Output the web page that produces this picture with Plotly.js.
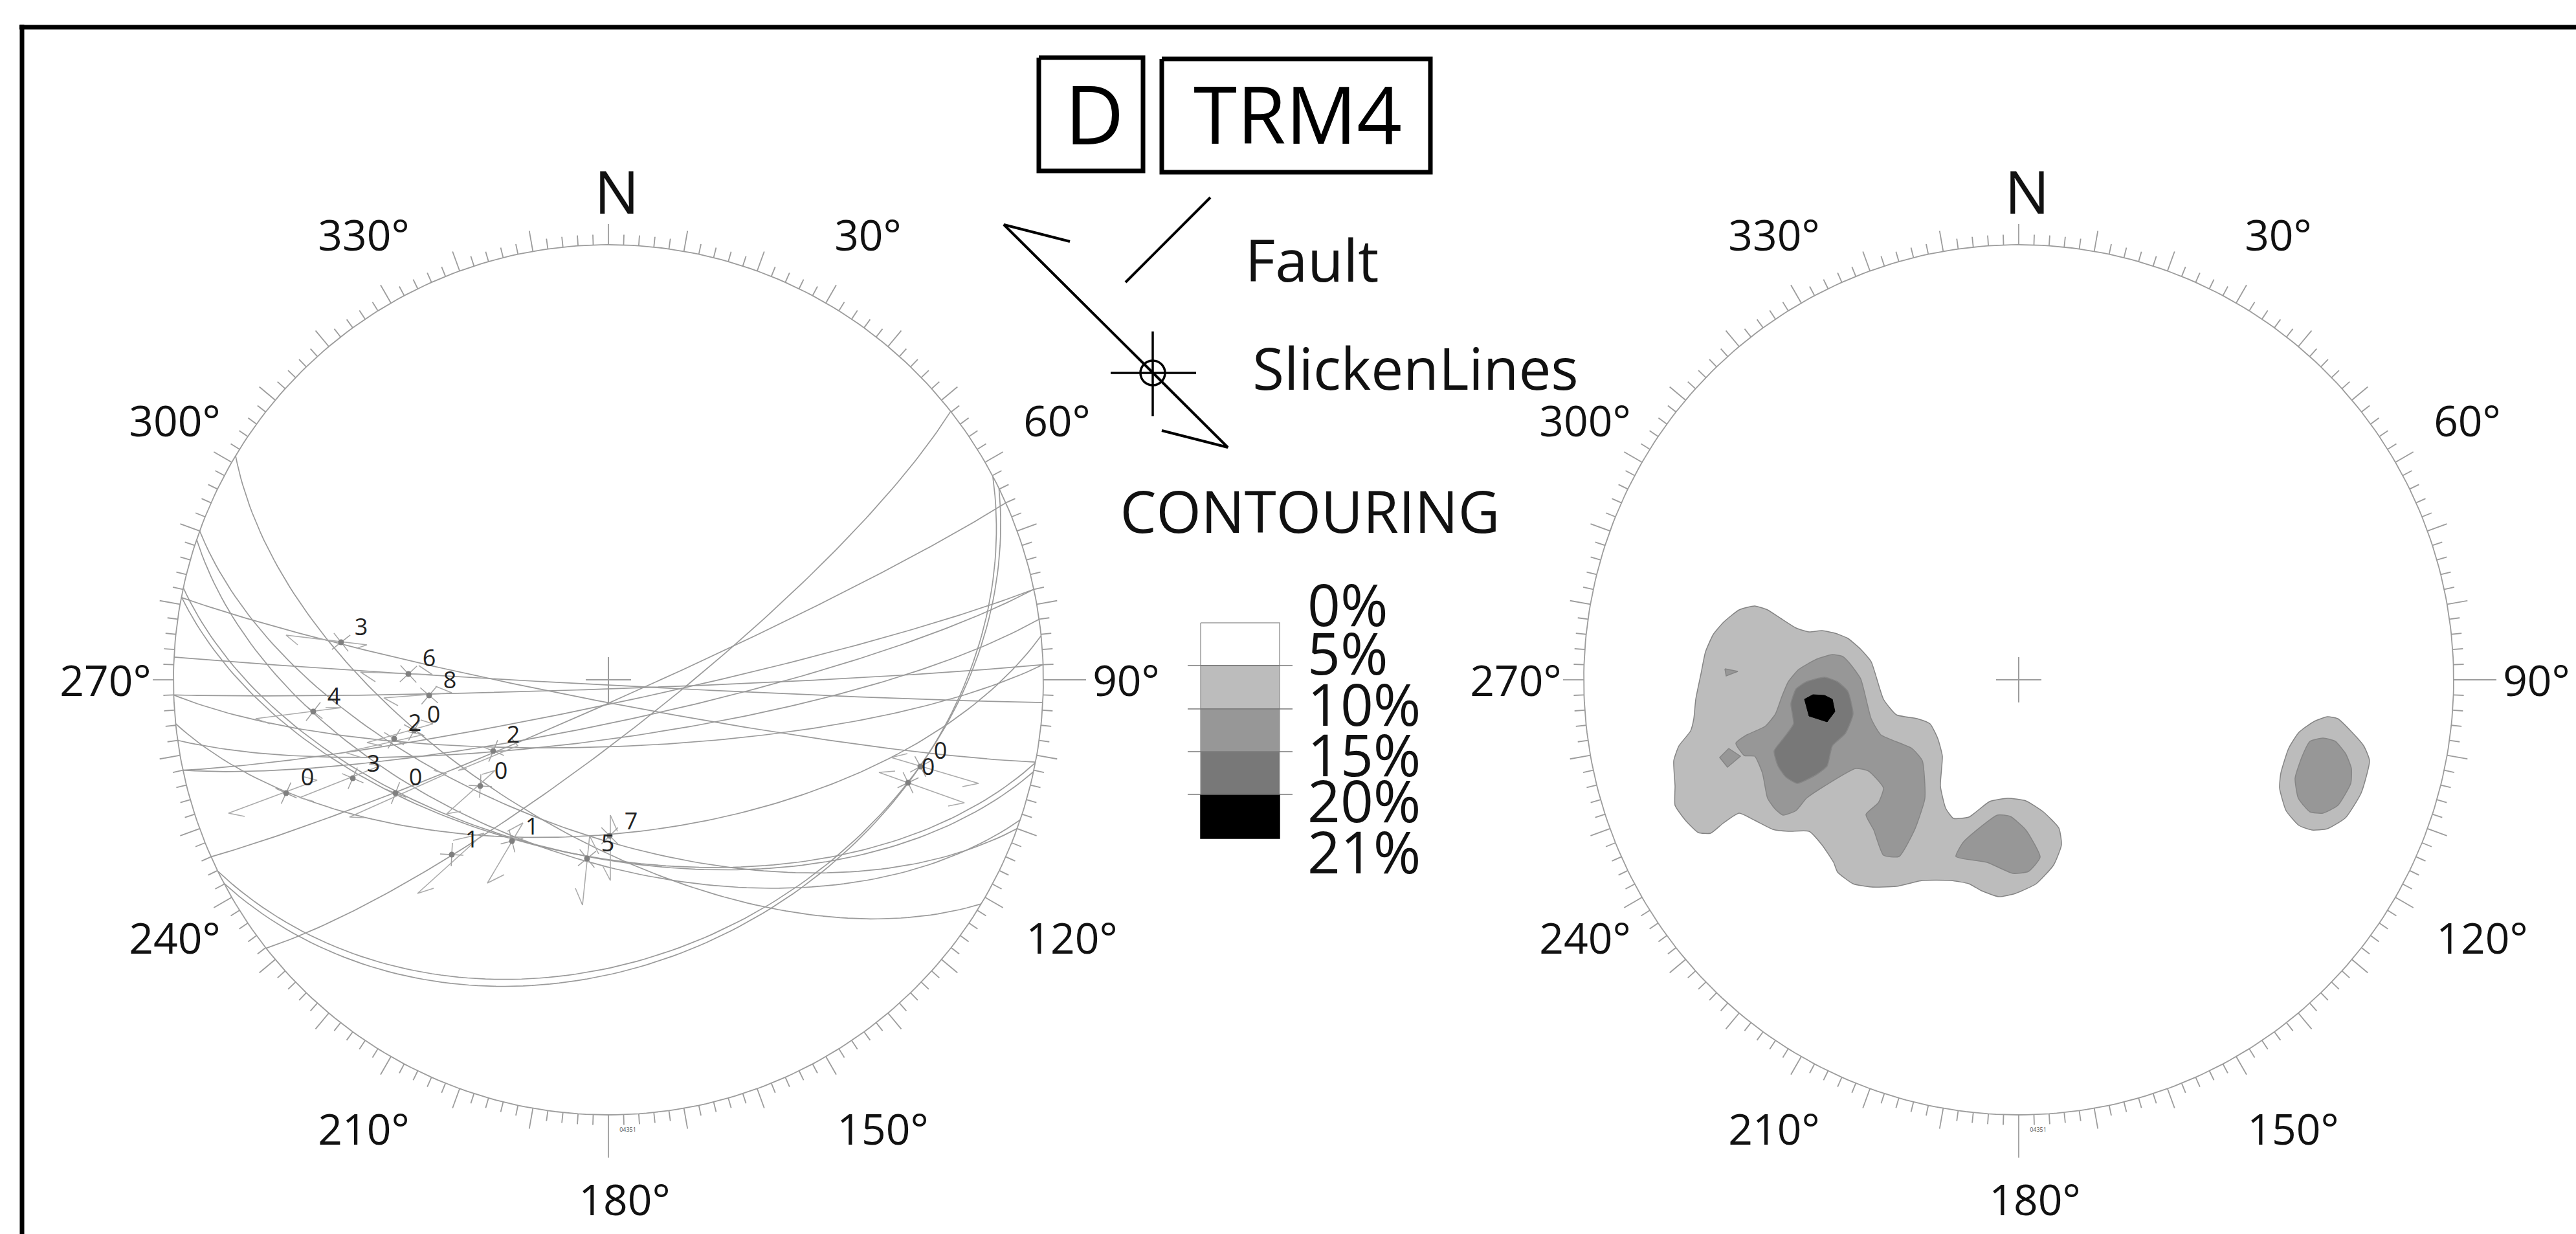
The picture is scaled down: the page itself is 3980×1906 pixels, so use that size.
<!DOCTYPE html>
<html><head><meta charset="utf-8">
<script src="https://cdn.plot.ly/plotly-3.0.1.min.js"></script>
<style>html,body{margin:0;padding:0;background:#fff}#c{width:3980px;height:1906px}</style>
</head><body><div id="c"></div>
<script>
// Fault planes: strike (azimuth, dip to the right of strike) and dip, degrees
const faultStrike = [121, 110, 108.8, 100.9, 101, 102.2, 93, 88, 88, 84.2, 82, 78, 78, 51.9, 66, 62.1, 63.9];
const faultDip    = [61, 61, 56, 85.8, 56.5, 56.5, 89, 88.3, 77.5, 61, 79, 85.5, 82, 80, 86, 36, 37];

// Slickenline marks read from the left net
const slickLabel = ['3','6','8','4','2','0','2','0','3','0','0','1','1','5','7','0','0'];
const slickX = [527,631,663,484,609,640,762,742,545,442,611,698,791,907,942,1403,1422];
const slickY = [992,1041,1074,1099,1141,1128,1160,1214,1202,1225,1225,1320,1299,1326,1291,1209,1184];
const slickLabelX = [558,663,695,516,641,670,793,774,577,475,642,729,822,939,975,1434,1453];
const slickLabelY = [969,1017,1051,1076,1117,1104,1135,1191,1180,1201,1201,1297,1277,1303,1269,1185,1160];
const tailX = [442,557,593,395,533,567,708,690,463,353,540,645,753,900,943,1358,1377];
const tailY = [981,1038,1078,1110,1162,1147,1190,1257,1232,1256,1262,1380,1364,1398,1360,1193,1170];
const tailHookX = [460,580,615,417,558,590,721,712,485,378,563,670,779,889,931,1383,1402];
const tailHookY = [996,1053,1090,1118,1170,1152,1187,1253,1238,1261,1263,1372,1351,1372,1337,1191,1164];
const headX = [567,668,698,528,653,669,800,765,587,490,690,748,808,911,943,1490,1512];
const headY = [996,1042,1070,1093,1135,1118,1152,1190,1183,1205,1195,1287,1271,1291,1259,1240,1210];
const headHookX = [552,647,673,503,630,650,790,745,570,470,670,700,784,925,954,1465,1487];
const headHookY = [1001,1028,1060,1093,1130,1112,1140,1196,1180,1200,1190,1298,1284,1319,1284,1245,1215];

// Density contours on the right net (outline vertices)
const c5MainX = [2711,2687,2663,2647,2635,2628,2620,2617,2612,2594,2586,2588,2588,2604,2624,2643,2663,2687,2711,2739,2763,2795,2815,2833,2839,2863,2891,2930,2970,3014,3042,3062,3088,3114,3146,3173,3185,3181,3157,3130,3102,3074,3042,3018,3006,2998,3001,2994,2982,2962,2930,2910,2891,2875,2855,2835,2815,2795,2775,2751,2731];
const c5MainY = [936,942,961,980,1007,1041,1080,1110,1129,1152,1175,1214,1244,1267,1286,1287,1271,1256,1267,1281,1284,1284,1305,1332,1347,1365,1370,1369,1360,1360,1365,1376,1385,1380,1365,1336,1305,1279,1254,1237,1233,1238,1262,1264,1248,1214,1168,1141,1118,1110,1104,1080,1022,1003,986,978,974,976,970,955,942];
const c5EastX = [3596,3576,3552,3536,3524,3522,3532,3552,3572,3596,3624,3648,3661,3652,3632,3612];
const c5EastY = [1107,1114,1131,1156,1194,1217,1252,1275,1282,1280,1263,1225,1175,1152,1129,1110];
const c10MainX = [2831,2807,2779,2763,2753,2743,2727,2699,2682,2695,2711,2723,2731,2743,2755,2775,2791,2819,2867,2887,2910,2902,2883,2895,2910,2934,2958,2974,2970,2954,2906,2891,2875,2859,2847];
const c10MainY = [1011,1018,1034,1053,1076,1103,1122,1135,1148,1167,1168,1194,1233,1250,1259,1252,1233,1214,1187,1191,1217,1240,1258,1282,1321,1323,1282,1233,1175,1156,1135,1110,1049,1026,1014];
const c10SmallAX = [2665,2685,2667];
const c10SmallAY = [1033,1037,1044];
const c10SmallBX = [2671,2689,2669,2657];
const c10SmallBY = [1156,1168,1185,1170];
const c10SouthX = [3086,3106,3130,3152,3134,3110,3070,3022,3034];
const c10SouthY = [1259,1261,1282,1324,1346,1349,1332,1323,1300];
const c10EastX = [3589,3569,3557,3546,3551,3569,3589,3612,3632,3633,3624,3608];
const c10EastY = [1140,1145,1168,1202,1233,1254,1256,1244,1210,1187,1164,1145];
const c15X = [2819,2791,2775,2767,2771,2755,2741,2747,2759,2777,2807,2823,2831,2851,2863,2855,2839];
const c15Y = [1046,1053,1064,1087,1118,1141,1160,1183,1200,1210,1196,1183,1152,1133,1103,1068,1053];
const c20X = [2801,2788,2795,2823,2835,2831,2819];
const c20Y = [1073,1080,1106,1115,1099,1080,1074];

// Contour key
const keyLabels = ['0%','5%','10%','15%','20%','21%'];
const keyLabelY = [945,1020,1099,1177,1248,1327];
const keyEdges = [962,1028,1095,1161,1227,1295];
const keyColors = ['#ffffff','#bcbcbc','#979797','#787878','#000000'];

// Net labels
const netLabels = ['330°','30°','300°','60°','270°','90°','240°','120°','210°','150°','180°'];
const netLabelDX = [-378,401,-670,693,-777,800,-670,716,-378,424,25];
const netLabelY = [370,370,657,657,1058,1058,1456,1456,1751,1751,1860];

const CX = [940, 3119], CY = 1050, R = 672;
const GREY = '#9c9c9c', rad = Math.PI/180;
const traces = [];
const line = (x,y,color,width) => traces.push({type:'scatter',mode:'lines',x,y,line:{color,width},hoverinfo:'skip'});
const poly = (x,y,fill) => traces.push({type:'scatter',mode:'lines',x:x.concat(x[0]),y:y.concat(y[0]),fill:'toself',fillcolor:fill,line:{color:'#858585',width:1.5,shape:x.length>4?'spline':'linear',smoothing:0.5},hoverinfo:'skip'});
const text = (x,y,t,size,color) => traces.push({type:'scatter',mode:'text',x,y,text:t,textposition:'middle center',textfont:{family:'"Open Sans"',size,color:color||'#111'},hoverinfo:'skip'});

// Primitive circles, ticks, centre crosses, labels
CX.forEach(cx => {
  const rx=[],ry=[],tx=[],ty=[];
  for(let a=0;a<=360;a++){rx.push(cx+R*Math.sin(a*rad));ry.push(CY-R*Math.cos(a*rad));}
  for(let a=0;a<360;a+=2){
    let L = a%10===0 ? 32 : 16;
    if(a===90||a===180) L=66;
    tx.push(cx+R*Math.sin(a*rad),cx+(R+L)*Math.sin(a*rad),null);
    ty.push(CY-R*Math.cos(a*rad),CY-(R+L)*Math.cos(a*rad),null);
  }
  line(rx,ry,GREY,1.8);
  line(tx,ty,GREY,1.8);
  line([cx-35,cx+35,null,cx,cx],[CY,CY,null,CY-35,CY+35],GREY,2);
  text(netLabelDX.map(d=>cx+d),netLabelY,netLabels,66);
  text([cx+13],[307],['N'],92);
  text([cx+30],[1746],['04351'],9,'#555');
});

// Great circles (equal-area lower hemisphere)
faultStrike.forEach((s,i)=>{
  const d=faultDip[i], x=[], y=[];
  for(let l=0;l<=180;l+=1.5){
    const cl=Math.cos(l*rad), sl=Math.sin(l*rad);
    const e=cl*Math.sin(s*rad)+sl*Math.cos(d*rad)*Math.sin((s+90)*rad);
    const n=cl*Math.cos(s*rad)+sl*Math.cos(d*rad)*Math.cos((s+90)*rad);
    const p=Math.asin(sl*Math.sin(d*rad));
    const h=Math.hypot(e,n)||1e-9;
    const r=R*Math.SQRT2*Math.sin((Math.PI/2-p)/2);
    x.push(CX[0]+r*e/h); y.push(CY-r*n/h);
  }
  line(x,y,'#9a9a9a',1.7);
});

// Slickenlines with half arrows, crosses and dots
slickX.forEach((sx,i)=>{
  const sy=slickY[i];
  line([tailHookX[i],tailX[i],headX[i],headHookX[i]],[tailHookY[i],tailY[i],headY[i],headHookY[i]],'#ababab',1.6);
  const ang=Math.atan2(headY[i]-tailY[i],headX[i]-tailX[i]);
  const cx=[],cy=[];
  [Math.PI/4,-Math.PI/4].forEach(o=>{
    cx.push(sx-18*Math.cos(ang+o),sx+18*Math.cos(ang+o),null);
    cy.push(sy-18*Math.sin(ang+o),sy+18*Math.sin(ang+o),null);
  });
  line(cx,cy,'#a0a0a0',1.5);
});
traces.push({type:'scatter',mode:'markers',x:slickX,y:slickY,marker:{size:9,color:'#808080'},hoverinfo:'skip'});
text(slickLabelX,slickLabelY.map(v=>v+3),slickLabel,36,'#222');

// Contours, lowest level first
poly(c5MainX,c5MainY,'#bcbcbc'); poly(c5EastX,c5EastY,'#bcbcbc');
poly(c10MainX,c10MainY,'#979797'); poly(c10SmallAX,c10SmallAY,'#979797'); poly(c10SmallBX,c10SmallBY,'#979797');
poly(c10SouthX,c10SouthY,'#979797'); poly(c10EastX,c10EastY,'#979797');
poly(c15X,c15Y,'#787878');
traces.push({type:'scatter',mode:'lines',x:c20X.concat(c20X[0]),y:c20Y.concat(c20Y[0]),fill:'toself',fillcolor:'#000',line:{color:'#000',width:1},hoverinfo:'skip'});

// Contour key
keyColors.forEach((c,i)=>{
  traces.push({type:'scatter',mode:'lines',x:[1855,1977,1977,1855,1855],y:[keyEdges[i],keyEdges[i],keyEdges[i+1],keyEdges[i+1],keyEdges[i]],fill:'toself',fillcolor:c,line:{color:i===4?'#000':GREY,width:1.5},hoverinfo:'skip'});
});
for(let i=1;i<5;i++) line([1835,1997],[keyEdges[i],keyEdges[i]],'#777',1.5);
traces.push({type:'scatter',mode:'text',x:keyLabels.map(()=>2020),y:keyLabelY,text:keyLabels,textposition:'middle right',textfont:{family:'"Open Sans"',size:89,color:'#111'},hoverinfo:'skip'});

// Legend glyphs, boxes, frame
line([34,34,null,30,3980],[38,1906,null,42,42],'#000',7);
line([1605,1766,1766,1605,1605],[89,89,264,264,89],'#000',7);
line([1795,2210,2210,1795,1795],[91,91,266,266,91],'#000',7);
line([1653,1551,1897,1795],[373,347,691,665],'#000',4);
line([1870,1739],[305,436],'#000',4);
line([1716,1848,null,1781,1781],[576,576,null,512,643],'#000',3.5);
traces.push({type:'scatter',mode:'markers',x:[1781],y:[576],marker:{symbol:'circle-open',size:38,color:'#000',line:{width:3.5,color:'#000'}},hoverinfo:'skip'});
text([1691],[191],['D'],126,'#000');
text([2005],[191],['TRM4'],122,'#000');
text([2027],[412],['Fault'],90,'#111');
text([2187],[580],['SlickenLines'],89,'#111');
text([2024],[801],['CONTOURING'],89,'#111');

Plotly.newPlot('c',traces,{
  width:3980,height:1906,margin:{l:0,r:0,t:0,b:0},showlegend:false,hovermode:false,
  paper_bgcolor:'#fff',plot_bgcolor:'#fff',
  xaxis:{range:[0,3980],visible:false,fixedrange:true},
  yaxis:{range:[1906,0],visible:false,fixedrange:true}
},{staticPlot:true,displayModeBar:false});
</script></body></html>
